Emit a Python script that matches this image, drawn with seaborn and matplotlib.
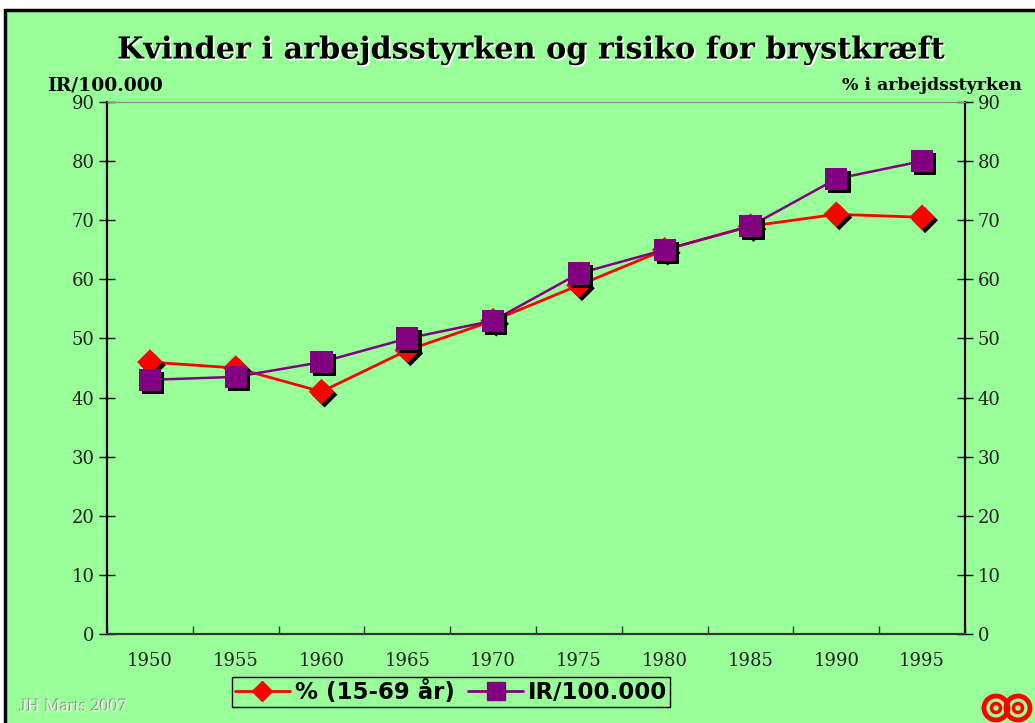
import numpy as np
import pandas as pd
import seaborn as sns
import matplotlib.pyplot as plt
import matplotlib.patheffects as pe
from matplotlib.lines import Line2D
from matplotlib.patches import Rectangle, Circle
from matplotlib.transforms import IdentityTransform

# data
years = ['1950', '1955', '1960', '1965', '1970', '1975', '1980', '1985', '1990', '1995']
pct_15_69 = [46, 45, 41, 48, 53, 59, 65, 69, 71, 70.5]
ir_100000 = [43, 43.5, 46, 50, 53, 61, 65, 69, 77, 80]
y_ticks = [0, 10, 20, 30, 40, 50, 60, 70, 80, 90]

green = '#99ff99'
red = '#ff0000'
purple = '#800080'

sns.set_theme(style='white')
plt.rcParams['font.family'] = ['DejaVu Serif']

fig = plt.figure(figsize=(10.35, 7.23), dpi=100)
fig.patch.set_facecolor('white')
# slide background with border
fig.patches.append(Rectangle((5 / 1035, -0.05), 1.1, (723 - 10) / 723 + 0.05,
                             transform=fig.transFigure, facecolor=green,
                             edgecolor='black', linewidth=2.5, zorder=-10))

ax = fig.add_axes([107 / 1035, (723 - 634) / 723, (965 - 107) / 1035, (634 - 102) / 723])
ax.set_facecolor(green)

df = pd.DataFrame({'pos': np.arange(len(years)), 'year': years,
                   'pct': pct_15_69, 'ir': ir_100000})

shadow = [pe.SimplePatchShadow(offset=(2.2, -2.2), shadow_rgbFace='black', alpha=1), pe.Normal()]

sns.lineplot(data=df, x='pos', y='pct', color=red, linewidth=2.0, ax=ax, zorder=3)
sns.lineplot(data=df, x='pos', y='ir', color=purple, linewidth=1.8, ax=ax, zorder=3)
sns.scatterplot(data=df, x='pos', y='pct', marker='D', s=170, color=red,
                edgecolor='none', ax=ax, zorder=4, path_effects=shadow)
sns.scatterplot(data=df, x='pos', y='ir', marker='s', s=260, color=purple,
                edgecolor='none', ax=ax, zorder=5, path_effects=shadow)

ax.set_xlim(-0.5, len(years) - 0.5)
ax.set_ylim(0, 90)
ax.set_xlabel('')
ax.set_ylabel('')

# x axis: boundary ticks, labels centered on categories
ax.set_xticks(np.arange(len(years) + 1) - 0.5)
ax.set_xticklabels([])
ax.set_xticks(np.arange(len(years)), minor=True)
ax.set_xticklabels(years, minor=True)
ax.tick_params(axis='x', which='major', direction='in', length=6, width=1, color='#333333', bottom=True)
ax.tick_params(axis='x', which='minor', length=0, pad=13, labelsize=13, labelcolor='#222222')

ax.set_yticks(y_ticks)
ax.tick_params(axis='y', direction='inout', length=12, width=1, color='black', left=True,
               labelsize=13, labelcolor='#222222', pad=3)

ax2 = ax.twinx()
ax2.set_ylim(0, 90)
ax2.set_yticks(y_ticks)
ax2.tick_params(axis='y', direction='inout', length=12, width=1, color='black', right=True,
                labelsize=13, labelcolor='#222222', pad=3)
ax2.grid(False)
ax.grid(False)

for a in (ax, ax2):
    a.spines['left'].set_color('black')
    a.spines['left'].set_linewidth(1.5)
    a.spines['right'].set_color('black')
    a.spines['right'].set_linewidth(1.5)
    a.spines['bottom'].set_color('#333333')
    a.spines['bottom'].set_linewidth(1.5)
    a.spines['top'].set_color('#888888')
    a.spines['top'].set_linewidth(0.8)

# title and axis captions
fig.text(0.513, 1 - 50 / 723, 'Kvinder i arbejdsstyrken og risiko for brystkræft',
         ha='center', va='center', fontsize=21.8, fontweight='bold', color='black',
         path_effects=[pe.withSimplePatchShadow(offset=(1.2, -1.2), shadow_rgbFace='white', alpha=1)])
fig.text(47 / 1035, 1 - 86 / 723, 'IR/100.000', ha='left', va='center',
         fontsize=13.5, fontweight='bold', color='black')
fig.text(1022 / 1035, 1 - 86 / 723, '% i arbejdsstyrken', ha='right', va='center',
         fontsize=12.5, fontweight='bold', color='black')

# legend
handles = [Line2D([], [], color=red, lw=2.0, marker='D', markersize=10),
           Line2D([], [], color=purple, lw=2.0, marker='s', markersize=13)]
leg = fig.legend(handles, ['% (15-69 år)', 'IR/100.000'], loc='center',
                 bbox_to_anchor=(451 / 1035, 1 - 692 / 723), ncol=2, frameon=True,
                 fancybox=False, edgecolor='black', facecolor=green, framealpha=1,
                 handlelength=2.4, handletextpad=0.2, columnspacing=0.6,
                 borderpad=0.15, labelcolor='black',
                 prop={'family': 'DejaVu Sans', 'weight': 'bold', 'size': 16.5})
leg.get_frame().set_linewidth(1.0)

# footer
fig.text(20 / 1035, 1 - 707 / 723, 'JH Marts 2007', ha='left', va='center', fontsize=13,
         family='Liberation Serif', color='#e8ffe8',
         path_effects=[pe.withSimplePatchShadow(offset=(-0.8, 0.8), shadow_rgbFace='#888888', alpha=1)])

# logo: two red rings (pixel coordinates, origin bottom-left)
logo_y = 723 - 708
for cx in (996, 1018):
    for r, lw in ((12, 3.5), (4.5, 2.5)):
        fig.patches.append(Circle((cx, logo_y), r, transform=IdentityTransform(),
                                  facecolor='none', edgecolor=red, linewidth=lw, zorder=5))
fig.patches.append(Circle((1007, logo_y), 2, transform=IdentityTransform(),
                          facecolor='none', edgecolor=red, linewidth=1.5, zorder=5))

fig.savefig('out.png', dpi=100, facecolor=fig.get_facecolor())
